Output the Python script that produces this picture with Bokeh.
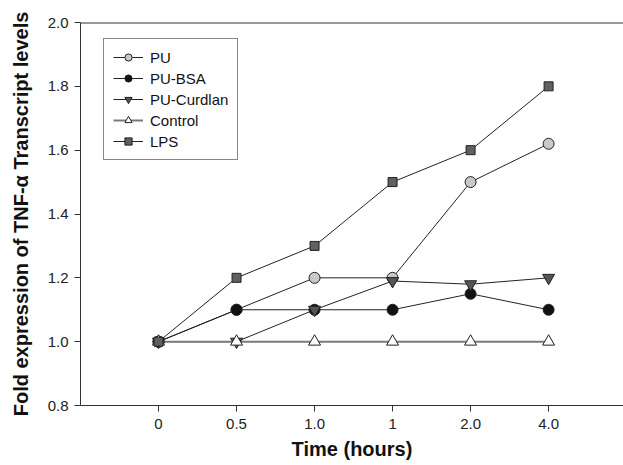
from bokeh.plotting import figure
from bokeh.models import Range1d, FixedTicker, Legend, LegendItem, Span
from bokeh.embed import file_html
from bokeh.resources import INLINE

time_labels = ["0", "0.5", "1.0", "1", "2.0", "4.0"]
pu = [1.0, 1.1, 1.2, 1.2, 1.5, 1.62]
pu_bsa = [1.0, 1.1, 1.1, 1.1, 1.15, 1.1]
pu_curdlan = [1.0, 1.0, 1.1, 1.19, 1.18, 1.2]
control = [1.0, 1.0, 1.0, 1.0, 1.0, 1.0]
lps = [1.0, 1.2, 1.3, 1.5, 1.6, 1.8]
y_ticks = [0.8, 1.0, 1.2, 1.4, 1.6, 1.8, 2.0]

xs = list(range(len(time_labels)))
FONT = "Liberation Sans"

p = figure(width=623, height=465, output_backend="svg", toolbar_location=None,
           x_range=Range1d(-1, 5.96), y_range=Range1d(0.8, 2.0), min_border=0,
           min_border_left=80, min_border_right=0, min_border_top=22, min_border_bottom=60)
p.outline_line_color = None
p.grid.grid_line_color = None
p.background_fill_color = "white"
p.border_fill_color = "white"

series = [
    ("PU", pu, "circle", "#c8c8c8", 11, "#222222", 1),
    ("PU-BSA", pu_bsa, "circle", "#111111", 11, "#222222", 1),
    ("PU-Curdlan", pu_curdlan, "inverted_triangle", "#555555", 12, "#222222", 1),
    ("Control", control, "triangle", "#ffffff", 12, "#7a7a7a", 2),
    ("LPS", lps, "square", "#606060", 9, "#222222", 1),
]

lines = {}
for name, ys, marker, fill, size, lc, lw in series:
    lines[name] = p.line(xs, ys, line_color=lc, line_width=lw)

items = []
for name, ys, marker, fill, size, lc, lw in series:
    sc = p.scatter(xs, ys, marker=marker, size=size, fill_color=fill,
                   line_color="#222222", line_width=1)
    items.append(LegendItem(label=name, renderers=[lines[name], sc]))

legend = Legend(items=items, location=(23, 245))
legend.border_line_color = "#111111"
legend.border_line_width = 1
legend.label_text_font = FONT
legend.label_text_font_size = "15px"
legend.label_text_color = "#111111"
legend.glyph_width = 30
legend.glyph_height = 18
legend.label_height = 18
legend.spacing = 3
legend.padding = 9
legend.label_standoff = 7
legend.background_fill_alpha = 1
p.add_layout(legend, "center")

xa = p.xaxis[0]
xa.ticker = FixedTicker(ticks=xs)
xa.major_label_overrides = {i: t for i, t in enumerate(time_labels)}
xa.axis_label = "Time (hours)"

ya = p.yaxis[0]
ya.ticker = FixedTicker(ticks=y_ticks)
ya.major_label_overrides = {v: f"{v:.1f}" for v in y_ticks}
ya.axis_label = "Fold expression of TNF-\u03b1 Transcript levels"

for ax in (xa, ya):
    ax.axis_line_color = "#333333"
    ax.major_tick_line_color = "#333333"
    ax.major_tick_out = 6
    ax.major_tick_in = 0
    ax.minor_tick_line_color = None
    ax.major_label_text_font = FONT
    ax.major_label_text_font_size = "15px"
    ax.major_label_text_color = "#222222"
    ax.axis_label_text_font = FONT
    ax.axis_label_text_font_size = "20px"
    ax.axis_label_text_font_style = "bold"
    ax.axis_label_text_color = "#111111"
xa.major_label_standoff = 7
xa.axis_label_standoff = 6
ya.major_label_standoff = 6
ya.axis_label_standoff = 13

p.add_layout(Span(location=2.0, dimension="width", line_color="#333333", line_width=2))
p.add_layout(Span(location=0.8, dimension="width", line_color="#333333", line_width=1))

open("out.html", "w").write(file_html(p, INLINE))
